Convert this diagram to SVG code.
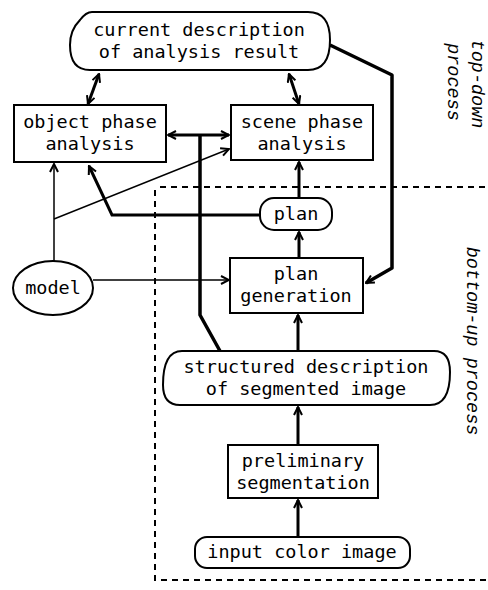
<svg xmlns="http://www.w3.org/2000/svg" width="488" height="590" viewBox="0 0 488 590">
<defs>
<style>
.n{fill:#fff;stroke:#000;stroke-width:2}
.t{font-family:"DejaVu Sans Mono","Liberation Mono",monospace;font-size:18.5px;fill:#000;text-anchor:middle}
.s{font-family:"Liberation Mono","DejaVu Sans Mono",monospace;font-style:italic;font-size:18.5px;fill:#000;text-anchor:middle}
.k{fill:none;stroke:#000;stroke-width:3.5;stroke-linejoin:round}
.m{fill:none;stroke:#000;stroke-width:3}
.h{fill:none;stroke:#000;stroke-width:1.5}
.d{fill:none;stroke:#000;stroke-width:2;stroke-dasharray:6 5}
</style>
<marker id="a" viewBox="0 0 10 10" refX="9" refY="5" markerWidth="10" markerHeight="10" markerUnits="userSpaceOnUse" orient="auto-start-reverse">
<path d="M1,1 L9,5 L1,9" fill="none" stroke="#000" stroke-width="2"/>
</marker>
</defs>
<rect width="488" height="590" fill="#fff"/>
<g id="region">
<path class="d" d="M160,187 H488"/>
<path class="d" d="M155,190 V580 H488"/>
</g>
<g id="connectors">
<line class="m" x1="99" y1="74" x2="88" y2="104" marker-start="url(#a)" marker-end="url(#a)"/>
<line class="m" x1="289" y1="74" x2="299" y2="104" marker-start="url(#a)" marker-end="url(#a)"/>
<line class="m" x1="168" y1="135" x2="229" y2="135" marker-start="url(#a)" marker-end="url(#a)"/>
<polyline class="k" points="220,351 200,315 200,135"/>
<polyline class="k" points="330,45 392,75 392,268 366,283" marker-end="url(#a)"/>
<polyline class="m" points="260,215 112,215 89,166" marker-end="url(#a)"/>
<line class="m" x1="299" y1="198" x2="299" y2="162" marker-end="url(#a)"/>
<line class="m" x1="299" y1="258" x2="299" y2="232" marker-end="url(#a)"/>
<line class="m" x1="298" y1="350" x2="298" y2="315" marker-end="url(#a)"/>
<line class="m" x1="298" y1="445" x2="298" y2="407" marker-end="url(#a)"/>
<line class="m" x1="298" y1="537" x2="298" y2="500" marker-end="url(#a)"/>
<line class="h" x1="54" y1="262" x2="54" y2="164" marker-end="url(#a)"/>
<line class="h" x1="54" y1="219" x2="229" y2="149" marker-end="url(#a)"/>
<line class="h" x1="93" y1="280" x2="229" y2="280" marker-end="url(#a)"/>
</g>
<g id="current">
<path class="n" d="M92,12 H308 Q330,12 330,40 Q330,70 308,70 H90 Q70,70 70,45 Q70,30 80,20 Q86,12 92,12 Z"/>
<text class="t" x="199" y="36">current description</text>
<text class="t" x="199" y="58">of analysis result</text>
</g>
<g id="object">
<rect class="n" x="14" y="105" width="152" height="57"/>
<text class="t" x="90" y="128">object phase</text>
<text class="t" x="90" y="150">analysis</text>
</g>
<g id="scene">
<rect class="n" x="231" y="105" width="142" height="55"/>
<text class="t" x="302" y="128">scene phase</text>
<text class="t" x="302" y="150">analysis</text>
</g>
<g id="plan">
<rect class="n" x="260" y="198" width="72" height="32" rx="14"/>
<text class="t" x="296" y="220">plan</text>
</g>
<g id="plangen">
<rect class="n" x="230" y="258" width="133" height="55"/>
<text class="t" x="296" y="280">plan</text>
<text class="t" x="296" y="302">generation</text>
</g>
<g id="model">
<ellipse class="n" cx="53" cy="288" rx="40" ry="27"/>
<text class="t" x="53" y="294">model</text>
</g>
<g id="structured">
<path class="n" d="M182,351 H434 Q450,351 450,372 Q450,405 430,405 H180 Q163,405 163,385 Q163,351 182,351 Z"/>
<text class="t" x="306" y="373">structured description</text>
<text class="t" x="306" y="395">of segmented image</text>
</g>
<g id="prelim">
<rect class="n" x="228" y="445" width="150" height="53"/>
<text class="t" x="303" y="467">preliminary</text>
<text class="t" x="303" y="489">segmentation</text>
</g>
<g id="input">
<rect class="n" x="195" y="537" width="215" height="31" rx="12"/>
<text class="t" x="302" y="558">input color image</text>
</g>
<g id="labels">
<text class="s" transform="translate(472,84) rotate(90)">top-down</text>
<text class="s" transform="translate(448,82) rotate(90)">process</text>
<text class="s" transform="translate(467,341) rotate(90)">bottom-up process</text>
</g>
</svg>
